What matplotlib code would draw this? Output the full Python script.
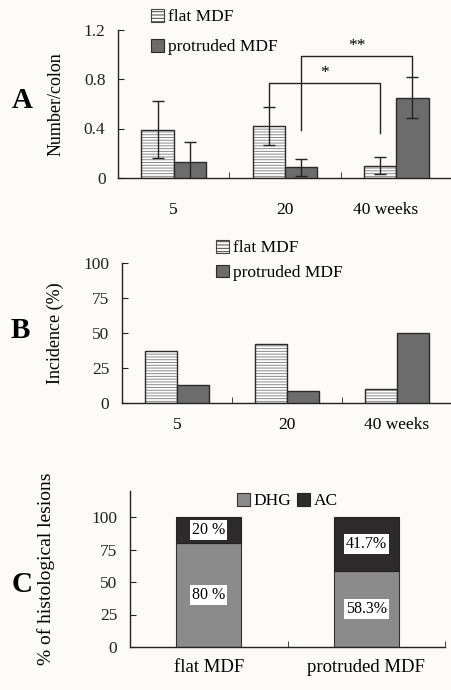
import numpy as np
import matplotlib
matplotlib.use('Agg')
import matplotlib.pyplot as plt
from matplotlib.patches import Patch
from matplotlib.transforms import ScaledTranslation

plt.rcParams['font.family'] = ['Liberation Serif', 'DejaVu Serif']
plt.rcParams['hatch.linewidth'] = 0.7

# ── data ────────────────────────────────────────────────
weeks = ['5', '20', '40 weeks']
series = ['flat MDF', 'protruded MDF']

# A: number per colon (mean, SD)
flat_num = [0.39, 0.42, 0.10]
flat_sd = [0.23, 0.15, 0.07]
prot_num = [0.13, 0.086, 0.65]
prot_sd = [0.16, 0.07, 0.165]

# significance brackets: (series, from group, to group, level, label)
brackets = [
    ('flat', 1, 2, 0.77, '*'),
    ('prot', 1, 2, 0.985, '**'),
]
bracket_feet = {'*': (0.57, 0.36), '**': (0.39, 0.82)}

# B: incidence (%)
flat_inc = [37.5, 42.5, 10.0]
prot_inc = [12.8, 8.8, 50.0]

# C: histology (%)
lesion_types = ['flat MDF', 'protruded MDF']
dhg = [80.0, 58.3]
ac = [20.0, 41.7]
dhg_lbl = ['80 %', '58.3%']
ac_lbl = ['20 %', '41.7%']

W, H = 452, 690
bg = '#fcfbf9'
fig = plt.figure(figsize=(W / 100, H / 100), dpi=100, facecolor=bg)


def px_axes(left, right, bottom, top):
    return fig.add_axes([left / W, 1 - bottom / H, (right - left) / W, (bottom - top) / H],
                        facecolor=bg)


def style(ax, xpad):
    ax.spines['top'].set_visible(False)
    ax.spines['right'].set_visible(False)
    for s in ('left', 'bottom'):
        ax.spines[s].set_linewidth(1.0)
        ax.spines[s].set_color('#222222')
    ax.tick_params(axis='y', direction='in', length=4, labelsize=12.5, pad=9, colors='#222222')
    ax.tick_params(axis='x', which='major', length=0, labelsize=12.5, pad=xpad)
    ax.tick_params(axis='x', which='minor', direction='in', length=4, color='#222222')


FLAT_HATCH = '#8a8a8a'
PROT = '#6c6c6c'
EDGE = '#2a2a2a'
bw = 0.29
x = np.arange(len(weeks))


def flat_bars(ax, vals):
    ax.bar(x - bw / 2, vals, bw, color='white', hatch='------', edgecolor=FLAT_HATCH, lw=0, zorder=2)
    ax.bar(x - bw / 2, vals, bw, fill=False, edgecolor=EDGE, lw=1.0, zorder=3)


def legend_ab(ax, xy, spacing):
    h = [Patch(facecolor='white', hatch='-----', edgecolor='#444444', lw=0.8),
         Patch(facecolor=PROT, edgecolor=EDGE, lw=0.8)]
    ax.legend(h, series, loc='upper left', bbox_to_anchor=(xy[0] / W, 1 - xy[1] / H),
              bbox_transform=fig.transFigure, frameon=False, fontsize=12.5,
              handlelength=0.75, handleheight=0.75, handletextpad=0.25,
              labelspacing=spacing, borderpad=0, borderaxespad=0)


# ── A ──────────────────────────────────────────────────
axA = px_axes(118, 452, 178, 29.5)
flat_bars(axA, flat_num)
axA.bar(x + bw / 2, prot_num, bw, color=PROT, edgecolor=EDGE, lw=1.0, zorder=3)
axA.errorbar(x - bw / 2, flat_num, yerr=flat_sd, fmt='none', ecolor='#222222',
             elinewidth=1.0, capsize=4.3, capthick=1.0, zorder=4)
axA.errorbar(x + bw / 2, prot_num, yerr=prot_sd, fmt='none', ecolor='#222222',
             elinewidth=1.0, capsize=4.3, capthick=1.0, zorder=4)
for ser, g0, g1, lev, lab in brackets:
    off = -bw / 2 if ser == 'flat' else bw / 2
    f0, f1 = bracket_feet[lab]
    axA.plot([g0 + off, g0 + off, g1 + off, g1 + off], [f0, lev, lev, f1],
             color='#222222', lw=1.0, zorder=5, clip_on=False)
    axA.text((g0 + g1) / 2 + off, lev + 0.015, lab, ha='center', va='bottom',
             fontsize=12.5)
axA.set_xlim(-0.5, 2.5)
axA.set_ylim(0, 1.2)
axA.set_yticks([0, 0.4, 0.8, 1.2])
axA.set_yticklabels(['0', '0.4', '0.8', '1.2'])
axA.set_xticks(x)
axA.set_xticklabels(weeks)
axA.set_xticks([0.5, 1.5], minor=True)
style(axA, 17)
lbl = axA.get_xticklabels()[-1]
lbl.set_transform(lbl.get_transform() + ScaledTranslation(-0.11, 0, fig.dpi_scale_trans))
axA.set_ylabel('Number/colon', fontsize=13, labelpad=14)
legend_ab(axA, (151, 9), 0.78)
fig.text(12 / W, 1 - 100 / H, 'A', fontsize=21, fontweight='bold', va='center', ha='left')

# ── B ──────────────────────────────────────────────────
axB = px_axes(122, 452, 403, 263)
flat_bars(axB, flat_inc)
axB.bar(x + bw / 2, prot_inc, bw, color=PROT, edgecolor=EDGE, lw=1.0, zorder=3)
axB.set_xlim(-0.5, 2.5)
axB.set_ylim(0, 100)
axB.set_yticks([0, 25, 50, 75, 100])
axB.set_xticks(x)
axB.set_xticklabels(weeks)
axB.set_xticks([0.5, 1.5], minor=True)
style(axB, 10)
axB.set_ylabel('Incidence (%)', fontsize=13, labelpad=14)
legend_ab(axB, (216, 240), 0.48)
fig.text(11 / W, 1 - 330 / H, 'B', fontsize=21, fontweight='bold', va='center', ha='left')

# ── C ──────────────────────────────────────────────────
axC = px_axes(130, 445, 647, 491)
xc = np.arange(len(lesion_types))
cw = 0.41
DHG_C = '#8b8b8b'
AC_C = '#2c2a2a'
axC.bar(xc, dhg, cw, color=DHG_C, edgecolor='#333333', lw=0.8, zorder=2)
axC.bar(xc, ac, cw, bottom=dhg, color=AC_C, edgecolor='#222222', lw=0.8, zorder=2)
box = dict(facecolor='white', edgecolor='none', pad=1.5)
for i in range(len(xc)):
    axC.text(xc[i], dhg[i] / 2, dhg_lbl[i], ha='center', va='center', fontsize=11.5,
             bbox=box, zorder=4)
    axC.text(xc[i], dhg[i] + ac[i] / 2, ac_lbl[i], ha='center', va='center', fontsize=11.5,
             bbox=box, zorder=4)
axC.set_xlim(-0.5, 1.5)
axC.set_ylim(0, 120)
axC.set_yticks([0, 25, 50, 75, 100])
axC.set_xticks(xc)
axC.set_xticklabels(lesion_types)
axC.set_xticks([0.5, 1.5], minor=True)
style(axC, 9)
axC.tick_params(axis='x', which='major', labelsize=13.5)
axC.set_ylabel('% of histological lesions', fontsize=14, labelpad=26)
axC.legend([Patch(facecolor=DHG_C, edgecolor='#333333', lw=0.8),
            Patch(facecolor=AC_C, edgecolor='#222222', lw=0.8)], ['DHG', 'AC'],
           loc='upper left', bbox_to_anchor=(237 / W, 1 - 493 / H),
           bbox_transform=fig.transFigure, frameon=False, ncol=2, fontsize=12.5,
           handlelength=0.75, handleheight=0.75, handletextpad=0.2, columnspacing=0.35,
           borderpad=0, borderaxespad=0)
fig.text(12 / W, 1 - 585 / H, 'C', fontsize=21, fontweight='bold', va='center', ha='left')

fig.savefig('out.png', dpi=100, facecolor=bg)
